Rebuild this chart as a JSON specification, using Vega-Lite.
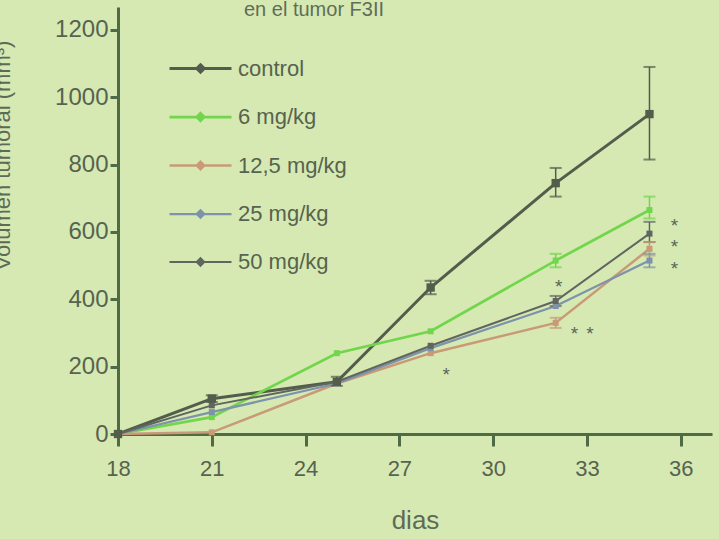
{
  "$schema": "https://vega.github.io/schema/vega-lite/v6.json",
  "autosize": "none",
  "width": 594,
  "height": 427,
  "padding": {"left": 118, "top": 7, "right": 7, "bottom": 105},
  "background": "#d6e9b3",
  "config": {
    "view": {"stroke": null},
    "font": "Liberation Sans",
    "axis": {
      "domainColor": "#4f6b45", "domainWidth": 3, "tickColor": "#4f6b45", "tickWidth": 3,
      "labelColor": "#56634f", "titleColor": "#5d6b56", "labelFont": "Liberation Sans",
      "titleFont": "Liberation Sans", "grid": false, "titleFontWeight": "normal"
    },
    "legend": {"symbolSize": 3844, "symbolType": "M-1,0L1,0M0,-0.12L0.12,0L0,0.12L-0.12,0Z", "symbolStrokeWidth": 2.5}
  },
  "title": {"text": "en el tumor F3II", "anchor": "start", "dx": 253, "offset": -13, "fontSize": 20, "color": "#5f6e58", "fontWeight": "normal", "font": "Liberation Sans"},
  "datasets": {
    "series": [
      {"day": 18, "vol": 0, "group": "control"},
      {"day": 21, "vol": 105, "group": "control", "lo": 95, "hi": 115},
      {"day": 25, "vol": 155, "group": "control", "lo": 143, "hi": 170},
      {"day": 28, "vol": 435, "group": "control", "lo": 415, "hi": 455},
      {"day": 32, "vol": 745, "group": "control", "lo": 705, "hi": 790},
      {"day": 35, "vol": 950, "group": "control", "lo": 815, "hi": 1090},
      {"day": 18, "vol": 0, "group": "6 mg/kg"},
      {"day": 21, "vol": 50, "group": "6 mg/kg"},
      {"day": 25, "vol": 240, "group": "6 mg/kg"},
      {"day": 28, "vol": 305, "group": "6 mg/kg"},
      {"day": 32, "vol": 515, "group": "6 mg/kg", "lo": 495, "hi": 535},
      {"day": 35, "vol": 665, "group": "6 mg/kg", "lo": 640, "hi": 705},
      {"day": 18, "vol": 0, "group": "12,5 mg/kg"},
      {"day": 21, "vol": 5, "group": "12,5 mg/kg"},
      {"day": 25, "vol": 150, "group": "12,5 mg/kg"},
      {"day": 28, "vol": 240, "group": "12,5 mg/kg"},
      {"day": 32, "vol": 330, "group": "12,5 mg/kg", "lo": 315, "hi": 345},
      {"day": 35, "vol": 550, "group": "12,5 mg/kg", "lo": 530, "hi": 570},
      {"day": 18, "vol": 0, "group": "25 mg/kg"},
      {"day": 21, "vol": 65, "group": "25 mg/kg"},
      {"day": 25, "vol": 150, "group": "25 mg/kg"},
      {"day": 28, "vol": 255, "group": "25 mg/kg"},
      {"day": 32, "vol": 380, "group": "25 mg/kg"},
      {"day": 35, "vol": 515, "group": "25 mg/kg", "lo": 495, "hi": 535},
      {"day": 18, "vol": 0, "group": "50 mg/kg"},
      {"day": 21, "vol": 85, "group": "50 mg/kg"},
      {"day": 25, "vol": 155, "group": "50 mg/kg"},
      {"day": 28, "vol": 262, "group": "50 mg/kg"},
      {"day": 32, "vol": 395, "group": "50 mg/kg", "lo": 380, "hi": 410},
      {"day": 35, "vol": 595, "group": "50 mg/kg", "lo": 570, "hi": 630}
    ],
    "stars": [
      {"day": 28.5, "vol": 190, "label": "*"},
      {"day": 32.1, "vol": 450, "label": "*"},
      {"day": 32.6, "vol": 312, "label": "*"},
      {"day": 33.1, "vol": 312, "label": "*"},
      {"day": 35.8, "vol": 632, "label": "*"},
      {"day": 35.8, "vol": 570, "label": "*"},
      {"day": 35.8, "vol": 504, "label": "*"}
    ]
  },
  "encoding": {
    "x": {"field": "day", "type": "quantitative",
      "scale": {"domain": [18, 37], "nice": false, "zero": false},
      "axis": {"values": [18, 21, 24, 27, 30, 33, 36], "title": "dias", "titleFontSize": 26, "titlePadding": 28, "labelFontSize": 22, "tickSize": 12, "labelPadding": 12, "labelFlush": false, "format": "d"}},
    "y": {"field": "vol", "type": "quantitative",
      "scale": {"domain": [0, 1268], "nice": false},
      "axis": {"values": [0, 200, 400, 600, 800, 1000, 1200], "format": "d", "title": "Volumen tumoral (mm³)", "titleFontSize": 22, "titleX": -104, "titleY": 148, "titleBaseline": "bottom", "labelFontSize": 24, "tickSize": 8, "labelPadding": 2}}
  },
  "layer": [
    {
      "data": {"name": "series"},
      "mark": {"type": "line", "interpolate": "linear"},
      "encoding": {
        "color": {"field": "group", "type": "nominal",
          "scale": {"domain": ["control", "6 mg/kg", "12,5 mg/kg", "25 mg/kg", "50 mg/kg"],
                    "range": ["#525d4c", "#72d64c", "#c99a76", "#7c93ab", "#60665f"]},
          "legend": {"orient": "none", "legendX": 50, "legendY": 29, "title": null,
            "symbolType": "M-1,0L1,0M0,-0.12L0.12,0L0,0.12L-0.12,0Z", "symbolSize": 3844, "symbolStrokeWidth": 2.5,
            "labelFontSize": 22, "labelColor": "#56634f", "labelFont": "Liberation Sans", "labelOffset": 5, "rowPadding": 4.5}},
        "strokeWidth": {"field": "group", "type": "nominal",
          "scale": {"domain": ["control", "6 mg/kg", "12,5 mg/kg", "25 mg/kg", "50 mg/kg"], "range": [3, 2, 2.5, 3, 3]},
          "legend": null},
        "order": {"field": "day", "type": "quantitative"}
      }
    },
    {
      "data": {"name": "series"},
      "transform": [{"filter": "isValid(datum.lo)"}],
      "mark": {"type": "rule", "strokeWidth": 1.5},
      "encoding": {
        "y": {"field": "lo", "type": "quantitative"},
        "y2": {"field": "hi"},
        "color": {"field": "group", "type": "nominal", "legend": null}
      }
    },
    {
      "data": {"name": "series"},
      "transform": [{"filter": "isValid(datum.lo)"}],
      "mark": {"type": "tick", "orient": "horizontal", "size": 12, "thickness": 2},
      "encoding": {
        "y": {"field": "lo", "type": "quantitative"},
        "color": {"field": "group", "type": "nominal", "legend": null}
      }
    },
    {
      "data": {"name": "series"},
      "transform": [{"filter": "isValid(datum.hi)"}],
      "mark": {"type": "tick", "orient": "horizontal", "size": 12, "thickness": 2},
      "encoding": {
        "y": {"field": "hi", "type": "quantitative"},
        "color": {"field": "group", "type": "nominal", "legend": null}
      }
    },
    {
      "data": {"name": "series"},
      "transform": [{"filter": "datum.group !== 'control'"}],
      "mark": {"type": "point", "shape": "square", "filled": true, "opacity": 1, "size": 36},
      "encoding": {
        "color": {"field": "group", "type": "nominal", "legend": null}
      }
    },
    {
      "data": {"name": "series"},
      "transform": [{"filter": "datum.group === 'control'"}],
      "mark": {"type": "point", "shape": "square", "filled": true, "opacity": 1, "size": 70},
      "encoding": {
        "color": {"field": "group", "type": "nominal", "legend": null}
      }
    },
    {
      "data": {"name": "stars"},
      "mark": {"type": "text", "fontSize": 19, "color": "#5a6656", "baseline": "middle", "dy": 5, "font": "Liberation Sans"},
      "encoding": {"text": {"field": "label"}}
    }
  ]
}
